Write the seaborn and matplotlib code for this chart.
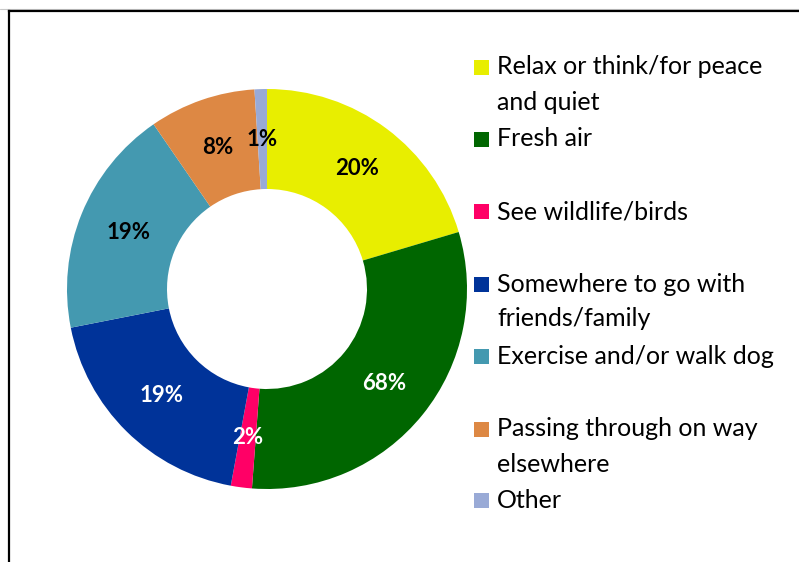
import matplotlib
matplotlib.use("Agg")
import matplotlib.pyplot as plt
from matplotlib.lines import Line2D
from matplotlib.patches import Rectangle
import numpy as np
import seaborn as sns

# ---- data ----
categories = [
    "Relax or think/for peace\nand quiet",
    "Fresh air",
    "See wildlife/birds",
    "Somewhere to go with\nfriends/family",
    "Exercise and/or walk dog",
    "Passing through on way\nelsewhere",
    "Other",
]
slice_sizes = [20.4, 30.8, 1.7, 19.0, 18.5, 8.6, 1.0]   # share of the ring as drawn
slice_labels = ["20%", "68%", "2%", "19%", "19%", "8%", "1%"]  # labels as printed
colors = ["#E8EE00", "#006600", "#FF0066", "#003399", "#4499B0", "#DD8844", "#99AAD6"]
label_colors = ["black", "white", "white", "white", "black", "black", "black"]

sns.set_theme(style="white")
plt.rcParams["font.family"] = ["Lato", "DejaVu Sans"]

W, H = 799, 562
fig = plt.figure(figsize=(W / 100, H / 100), dpi=100)
fig.patch.set_facecolor("white")

# donut axes: centre (267, 289) px, radius 200 px
cx, cy, r = 267, 289, 200
ax = fig.add_axes([(cx - r) / W, (H - cy - r) / H, 2 * r / W, 2 * r / H])
palette = sns.color_palette(colors)
wedges, _ = ax.pie(slice_sizes, colors=palette, startangle=90, counterclock=False,
                   radius=1.0, wedgeprops=dict(width=0.5, linewidth=0))
ax.set_xlim(-1, 1)
ax.set_ylim(-1, 1)
ax.set_aspect("equal")
ax.axis("off")

for w, lab, lc in zip(wedges, slice_labels, label_colors):
    ang = np.deg2rad((w.theta1 + w.theta2) / 2)
    ax.text(0.75 * np.cos(ang), 0.75 * np.sin(ang), lab, ha="center", va="center",
            fontsize=16, fontweight="bold", color=lc)

# legend drawn manually
item_y = [67, 139, 212, 284, 356, 429, 500]
for cat, col, yy in zip(categories, colors, item_y):
    fig.add_artist(Rectangle((474 / W, 1 - (yy + 7.5) / H), 15 / W, 15 / H,
                             transform=fig.transFigure, facecolor=col, edgecolor="none"))
    lines = cat.split("\n")
    for i, ln in enumerate(lines):
        fig.text(497 / W, 1 - (yy + 35 * i) / H, ln, ha="left", va="center",
                 fontsize=18, color="black")

# outer frame (partially cropped)
fig.add_artist(Line2D([0, 1], [1 - 8.5 / H, 1 - 8.5 / H], transform=fig.transFigure,
                      color="#c8c8c8", linewidth=0.8))
fig.add_artist(Line2D([8.5 / W, 8.5 / W], [0, 1 - 11 / H], transform=fig.transFigure,
                      color="black", linewidth=1.6, solid_capstyle="projecting"))
fig.add_artist(Line2D([8.5 / W, 1], [1 - 11 / H, 1 - 11 / H], transform=fig.transFigure,
                      color="black", linewidth=1.6, solid_capstyle="projecting"))

fig.savefig("out.png", dpi=100)
